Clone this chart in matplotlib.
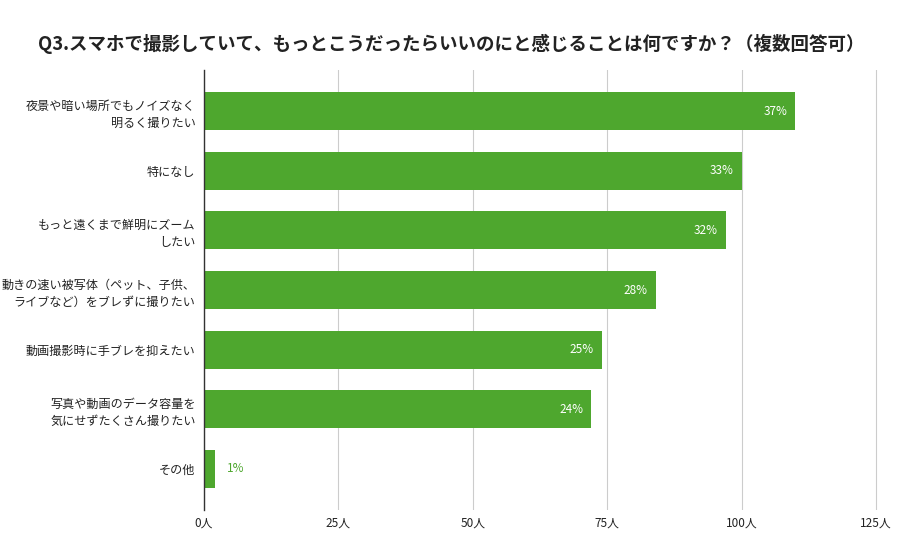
import matplotlib
matplotlib.use("Agg")
import matplotlib.pyplot as plt

plt.rcParams['font.family'] = ['Noto Sans CJK JP', 'DejaVu Sans']

categories = [
    "夜景や暗い場所でもノイズなく\n明るく撮りたい",
    "特になし",
    "もっと遠くまで鮮明にズーム\nしたい",
    "動きの速い被写体（ペット、子供、\nライブなど）をブレずに撮りたい",
    "動画撮影時に手ブレを抑えたい",
    "写真や動画のデータ容量を\n気にせずたくさん撮りたい",
    "その他",
]
counts = [110, 100, 97, 84, 74, 72, 2]
percents = ["37%", "33%", "32%", "28%", "25%", "24%", "1%"]
xticks = [0, 25, 50, 75, 100, 125]

bar_color = "#4ea72e"

fig = plt.figure(figsize=(9.03, 5.57), dpi=100)
ax = fig.add_axes([0.2259, 0.0844, 0.7502, 0.7899])

ypos = list(range(len(categories)))
ax.barh(ypos, counts, height=0.64, color=bar_color, zorder=3)

for y, v, p in zip(ypos, counts, percents):
    if v > 10:
        ax.text(v - 1.5, y, p, ha="right", va="center", color="white", fontsize=8.5, zorder=4)
    else:
        ax.text(v + 2.3, y, p, ha="left", va="center", color=bar_color, fontsize=8.5, zorder=4)

ax.set_xlim(0, 126)
ax.set_ylim(len(categories) - 1 + 0.687, -0.687)
ax.set_xticks(xticks)
ax.set_xticklabels([f"{t}人" for t in xticks], fontsize=8.5, color="#222222")
ax.set_yticks(ypos)
ax.set_yticklabels(categories, fontsize=8.7, color="#222222", linespacing=1.45)
ax.tick_params(axis="both", length=0)
ax.tick_params(axis="y", pad=6)
ax.tick_params(axis="x", pad=5)
ax.grid(axis="x", color="#cccccc", linewidth=0.8, zorder=0)

for side in ["top", "right", "bottom"]:
    ax.spines[side].set_visible(False)
ax.spines["left"].set_color("#333333")
ax.spines["left"].set_linewidth(1)
ax.spines["left"].set_zorder(5)

fig.text(0.5, 0.921, "Q3.スマホで撮影していて、もっとこうだったらいいのにと感じることは何ですか？（複数回答可）",
         ha="center", va="center", fontsize=13.3, fontweight="bold", color="#222222")

fig.savefig("out.png", dpi=100)
